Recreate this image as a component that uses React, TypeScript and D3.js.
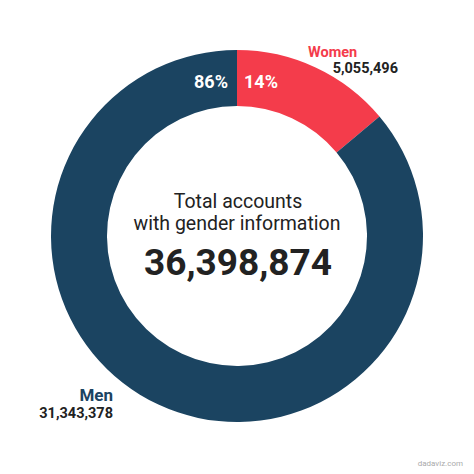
import * as d3 from 'd3';

const categories = ['Women', 'Men'];
const counts = [5055496, 31343378];
const percentLabels = ['14%', '86%'];
const totalLabel = '36,398,874';
const titleLines = ['Total accounts', 'with gender information'];

const COLORS = ['#f43c4b', '#1b4461'];
const FONT = 'Roboto, "Noto Sans", sans-serif';

export default function App() {
  const w = 474;
  const h = 474;
  const cx = 237;
  const cy = 236;
  const outerR = 186;
  const innerR = 130;

  const pie = d3.pie<number>().sort(null).value((d) => d);
  const arcs = pie(counts);
  const arc = d3.arc<d3.PieArcDatum<number>>().innerRadius(innerR).outerRadius(outerR);
  const fmt = d3.format(',');

  // percent labels sit just either side of the 12 o'clock split, in the ring
  const pctY = -(innerR + outerR) / 2 + 10;

  return (
    <svg width={w} height={h} style={{ position: 'absolute', left: 0, top: 0, background: '#fff' }}>
      <g transform={`translate(${cx},${cy})`}>
        {arcs.map((a, i) => (
          <path key={categories[i]} d={arc(a) ?? ''} fill={COLORS[i]} />
        ))}
        <text x={7} y={pctY} fill="#fff" fontFamily={FONT} fontWeight={700} fontSize={18}>
          {percentLabels[0]}
        </text>
        <text x={-9} y={pctY} fill="#fff" fontFamily={FONT} fontWeight={700} fontSize={18} textAnchor="end">
          {percentLabels[1]}
        </text>
      </g>

      {/* Women label, top right of the red slice */}
      <text x={308} y={57} fill={COLORS[0]} fontFamily={FONT} fontWeight={700} fontSize={14.5}>
        {categories[0]}
      </text>
      <text x={398} y={73} fill="#222" fontFamily={FONT} fontWeight={700} fontSize={14.5} textAnchor="end">
        {fmt(counts[0])}
      </text>

      {/* Men label, lower left */}
      <text x={113} y={401} fill={COLORS[1]} fontFamily={FONT} fontWeight={700} fontSize={17} textAnchor="end">
        {categories[1]}
      </text>
      <text x={113} y={418} fill="#222" fontFamily={FONT} fontWeight={700} fontSize={14.5} textAnchor="end">
        {fmt(counts[1])}
      </text>

      {/* centre text */}
      <text x={cx + 1} y={208} fill="#222" fontFamily={FONT} fontSize={19.5} textAnchor="middle">
        {titleLines[0]}
      </text>
      <text x={cx} y={230} fill="#222" fontFamily={FONT} fontSize={19.5} textAnchor="middle">
        {titleLines[1]}
      </text>
      <text x={cx + 1} y={275} fill="#222" fontFamily={FONT} fontWeight={700} fontSize={37} textAnchor="middle">
        {totalLabel}
      </text>

      <text x={463} y={466} fill="#aaa" fontFamily={FONT} fontSize={8} textAnchor="end">
        dadaviz.com
      </text>
    </svg>
  );
}
